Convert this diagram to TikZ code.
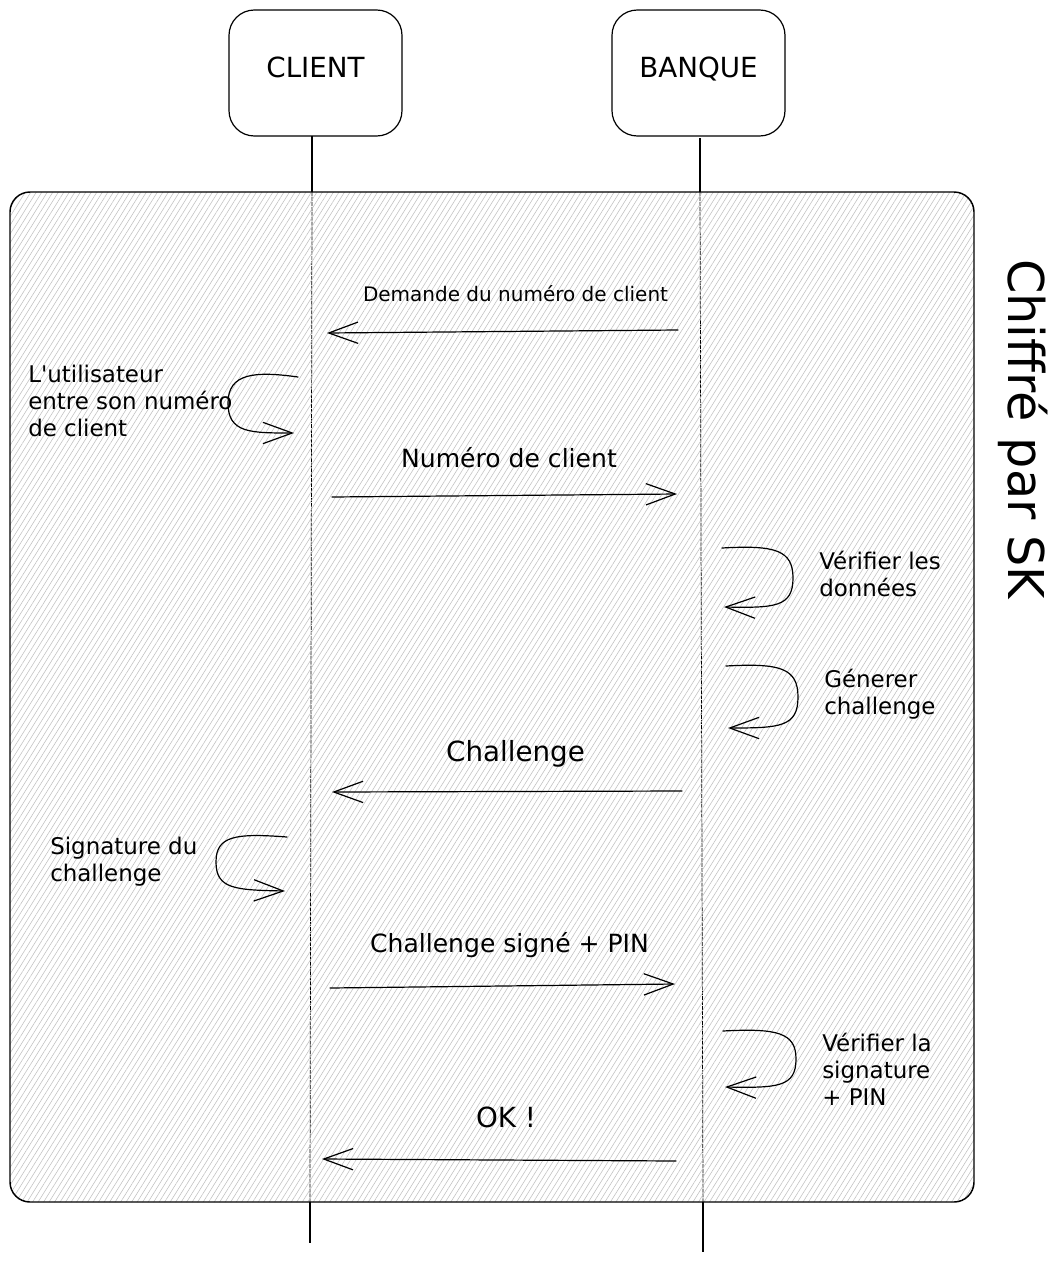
\documentclass[tikz,border=0pt]{standalone}
\usepackage{fontspec}
\setmainfont{DejaVu Sans}
\usetikzlibrary{arrows.meta,patterns.meta}
\begin{document}
\begin{tikzpicture}[x=0.75pt,y=-0.75pt,
  actor/.style={draw, line width=0.9pt, rounded corners=19pt, minimum width=129.75pt, minimum height=94.5pt, inner sep=0pt},
  actortxt/.style={inner sep=0pt, anchor=base, font=\fontsize{20.8}{25}\selectfont},
  life/.style={line width=0.8pt},
  lifein/.style={line width=0.55pt, dash pattern=on 3pt off 0.7pt},
  msg/.style={-{Straight Barb[length=22pt,width=16pt,line width=0.9pt]}, line width=0.9pt, line cap=round},
  sidelbl/.style={inner sep=0pt, font=\fontsize{17.2}{20.3}\selectfont, align=left, anchor=west},
  msgsmall/.style={inner sep=0pt, font=\fontsize{15}{18}\selectfont},
  msgmid/.style={inner sep=0pt, font=\fontsize{18.8}{22}\selectfont},
  msgbig/.style={inner sep=0pt, font=\fontsize{20.8}{25}\selectfont}
]
\useasboundingbox (0,0) rectangle (1056,1263);
\fill[white] (0,0) rectangle (1056,1263);

% actors
\node[actor] (client) at (315.5,73) {};
\node[actortxt] (clientlbl) at (315.5,78) {CLIENT};
\node[actor] (banque) at (698.5,73) {};
\node[actortxt] (banquelbl) at (698.5,78) {BANQUE};

% lifelines
\coordinate (ctop) at (312,136);
\coordinate (cin1) at (312,192);
\coordinate (cin2) at (310,1202);
\coordinate (cend) at (310,1243);
\coordinate (btop) at (700,138);
\coordinate (bin1) at (700,192);
\coordinate (bin2) at (703,1202);
\coordinate (bend) at (703,1252);
\draw[life] (ctop) -- (cin1);
\draw[lifein] (cin1) -- (cin2);
\draw[life] (cin2) -- (cend);
\draw[life] (btop) -- (bin1);
\draw[lifein] (bin1) -- (bin2);
\draw[life] (bin2) -- (bend);

% frame
\draw[line width=1.1pt, rounded corners=15pt,
  pattern={Lines[angle=58,distance=3.5pt,line width=0.4pt]}, pattern color=gray!50]
  (10,192) rectangle (974,1202);
\node[rotate=-90, inner sep=0pt, font=\fontsize{37}{44}\selectfont] (chiffre) at (1023,429) {Chiffré par SK};

% message 1
\coordinate (m1s) at (678,330);
\coordinate (m1e) at (327,333);
\draw[msg] (m1s) -- (m1e);
\node[msgsmall] (m1l) at (515.5,294) {Demande du numéro de client};

% client self 1
\coordinate (c1s) at (298,377);
\coordinate (c1e) at (294,433);
\draw[msg] (c1s) .. controls (255,371) and (228,373) .. (228,403) .. controls (228,433) and (250,433) .. (c1e);
\node[sidelbl] (c1l) at (28,401) {L\textquotesingle utilisateur\\entre son numéro\\de client};

% message 2
\coordinate (m2s) at (332,497);
\coordinate (m2e) at (677,494);
\draw[msg] (m2s) -- (m2e);
\node[msgmid] (m2l) at (509,458) {Numéro de client};

% banque self 1
\coordinate (b1s) at (722,548);
\coordinate (b1e) at (724,607);
\draw[msg] (b1s) .. controls (775,545) and (793,550) .. (793,578) .. controls (793,607) and (775,608) .. (b1e);
\node[sidelbl] (b1l) at (819,574) {Vérifier les\\données};

% banque self 2
\coordinate (b2s) at (726,666);
\coordinate (b2e) at (728,728);
\draw[msg] (b2s) .. controls (780,663) and (798,668) .. (798,697) .. controls (798,727) and (780,728) .. (b2e);
\node[sidelbl] (b2l) at (824,694.5) {Génerer\\challenge};

% message 3
\coordinate (m3s) at (682,791);
\coordinate (m3e) at (332,792);
\draw[msg] (m3s) -- (m3e);
\node[msgbig] (m3l) at (515.5,754) {Challenge};

% client self 2
\coordinate (c2s) at (287,837);
\coordinate (c2e) at (285,891);
\draw[msg] (c2s) .. controls (235,833) and (216,836) .. (216,862) .. controls (216,889) and (235,890) .. (c2e);
\node[sidelbl] (c2l) at (50,861.5) {Signature du\\challenge};

% message 4
\coordinate (m4s) at (330,988);
\coordinate (m4e) at (675,984);
\draw[msg] (m4s) -- (m4e);
\node[msgmid] (m4l) at (509.5,945) {Challenge signé + PIN};

% banque self 3
\coordinate (b3s) at (723,1031);
\coordinate (b3e) at (725,1087);
\draw[msg] (b3s) .. controls (778,1028) and (796,1033) .. (796,1059) .. controls (796,1087) and (778,1088) .. (b3e);
\node[sidelbl] (b3l) at (822,1069.5) {Vérifier la\\signature\\+ PIN};

% message 5
\coordinate (m5s) at (676,1161);
\coordinate (m5e) at (322,1159);
\draw[msg] (m5s) -- (m5e);
\node[msgbig] (m5l) at (506,1117) {OK !};
\end{tikzpicture}
\end{document}
